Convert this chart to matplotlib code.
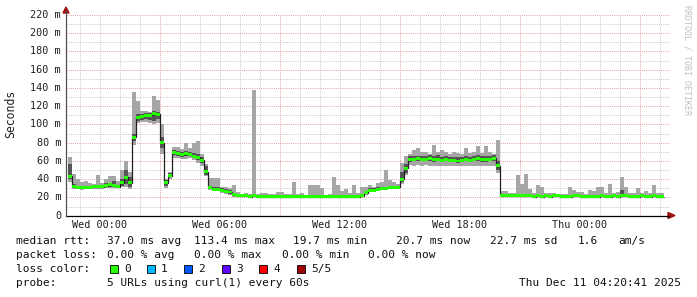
import numpy as np
import matplotlib
matplotlib.use("Agg")
import matplotlib.pyplot as plt
from matplotlib.patches import Rectangle, Polygon

# ── data: 12-minute blocks (ms), hours relative to Wed 00:00 ────────────────
t_start = -1.6
step_h = 0.2

med = [43, 32, 31, 31, 31, 31, 32, 32, 32, 33,
       34, 33, 32, 36, 42, 36, 86, 108, 109, 110,
       110, 112, 111, 80, 36, 44, 69, 68, 67, 68,
       67, 65, 64, 61, 48, 31, 29, 29, 28, 27,
       26, 23, 22, 22, 22, 21, 22, 21, 21, 21,
       21, 21, 21, 21, 21, 21, 21, 21, 21, 21,
       21, 21, 21, 21, 21, 21, 21, 21, 21, 21,
       21, 21, 21, 22, 25, 28, 28, 29, 30, 30,
       31, 31, 31, 40, 52, 62, 62, 63, 62, 62,
       63, 62, 62, 61, 62, 61, 61, 60, 61, 62,
       61, 62, 63, 62, 62, 62, 63, 55, 22, 22,
       22, 22, 22, 22, 22, 22, 21, 22, 21, 22,
       21, 22, 22, 21, 21, 21, 22, 22, 21, 21,
       21, 21, 21, 22, 21, 21, 22, 21, 22, 22,
       21, 21, 21, 22, 21, 21, 22, 21, 21]

smoke_hi = [64, 46, 40, 37, 38, 36, 35, 45, 36, 40,
            44, 44, 38, 50, 60, 48, 136, 126, 115, 115,
            114, 131, 127, 100, 40, 48, 75, 75, 73, 80,
            74, 80, 82, 68, 57, 41, 41, 41, 32, 31,
            30, 34, 26, 24, 25, 24, 138, 24, 25, 25,
            24, 24, 26, 26, 24, 24, 37, 24, 25, 23,
            34, 34, 34, 30, 23, 24, 42, 34, 27, 29,
            25, 34, 25, 31, 31, 34, 31, 36, 37, 50,
            39, 37, 35, 58, 65, 68, 72, 74, 70, 70,
            68, 78, 70, 72, 70, 68, 70, 69, 68, 74,
            69, 70, 76, 69, 76, 70, 68, 83, 27, 27,
            25, 25, 45, 35, 46, 29, 25, 34, 32, 25,
            25, 25, 24, 24, 24, 32, 28, 26, 26, 24,
            28, 27, 31, 32, 25, 35, 25, 26, 42, 31,
            25, 25, 30, 25, 27, 25, 34, 25, 25]

smoke_lo = [37, 29, 29, 28, 29, 29, 29, 29, 29, 30,
            30, 30, 30, 31, 32, 29, 78, 102, 103, 103,
            102, 101, 102, 68, 30, 40, 63, 63, 62, 62,
            63, 61, 58, 55, 43, 28, 27, 27, 25, 24,
            23, 21, 21, 20, 20, 19, 20, 20, 20, 20,
            19, 20, 20, 19, 20, 20, 20, 20, 20, 20,
            20, 20, 20, 20, 20, 20, 20, 20, 20, 20,
            20, 20, 20, 20, 23, 26, 26, 27, 28, 28,
            29, 29, 29, 35, 45, 56, 55, 56, 55, 56,
            55, 54, 55, 54, 55, 54, 55, 54, 55, 55,
            54, 55, 55, 54, 54, 55, 55, 47, 20, 20,
            20, 20, 20, 20, 20, 20, 20, 20, 20, 20,
            20, 20, 20, 20, 20, 19, 20, 20, 20, 19,
            20, 20, 20, 20, 20, 20, 20, 20, 21, 20,
            20, 20, 20, 20, 20, 20, 20, 20, 20]

dark_lo = [40, 30, 30, 30, 30, 30, 31, 31, 31, 31,
           32, 31, 31, 33, 35, 31, 82, 104, 105, 106,
           105, 104, 106, 74, 33, 42, 66, 65, 64, 65,
           65, 63, 61, 58, 45, 29, 28, 28, 27, 25,
           24, 22, 21, 21, 21, 21, 21, 21, 21, 21,
           20, 21, 20, 20, 21, 21, 21, 21, 21, 21,
           21, 21, 21, 21, 21, 21, 21, 21, 21, 21,
           21, 21, 21, 21, 24, 27, 27, 28, 29, 29,
           30, 30, 30, 37, 47, 59, 60, 60, 60, 60,
           60, 59, 60, 59, 60, 59, 59, 58, 59, 60,
           59, 60, 60, 59, 59, 60, 60, 50, 21, 21,
           21, 21, 21, 21, 21, 21, 21, 21, 21, 21,
           21, 21, 21, 21, 21, 20, 21, 21, 21, 20,
           21, 21, 21, 21, 21, 21, 21, 21, 22, 21,
           21, 21, 21, 21, 21, 21, 21, 21, 21]

dark_hi = [57, 35, 33, 33, 33, 32, 33, 33, 34, 36,
           36, 38, 34, 40, 50, 42, 90, 112, 112, 113,
           113, 115, 114, 86, 39, 47, 72, 71, 70, 71,
           70, 69, 68, 64, 55, 33, 31, 31, 30, 29,
           28, 25, 23, 23, 23, 23, 23, 23, 22, 22,
           22, 22, 22, 22, 22, 22, 22, 22, 22, 22,
           22, 22, 22, 22, 22, 22, 22, 22, 22, 22,
           22, 22, 22, 24, 27, 30, 30, 31, 32, 32,
           32, 33, 33, 48, 57, 65, 65, 65, 65, 65,
           66, 65, 66, 64, 65, 64, 64, 64, 64, 65,
           64, 65, 66, 65, 65, 65, 66, 60, 23, 23,
           23, 23, 24, 24, 23, 23, 22, 23, 22, 23,
           22, 23, 23, 22, 22, 22, 23, 23, 22, 22,
           22, 22, 22, 23, 22, 22, 23, 22, 28, 23,
           22, 22, 22, 23, 22, 22, 23, 22, 22]

tick_hours = [0, 6, 12, 18, 24]
tick_labels = ["Wed 00:00", "Wed 06:00", "Wed 12:00", "Wed 18:00", "Thu 00:00"]
loss_labels = ["0", "1", "2", "3", "4", "5/5"]
loss_colors = ["#26ff00", "#00b8ff", "#0059ff", "#5e00ff", "#ff0000", "#a00000"]

W, H = 697, 297
MONO = "DejaVu Sans Mono"


def fx(px):
    return px / W


def fy(py):
    return 1 - py / H


fig = plt.figure(figsize=(W / 100, H / 100), dpi=100)
fig.patch.set_facecolor("white")

# plot area: x 66..670 px, y 215.7..15 px
ax = fig.add_axes([fx(66), fy(215.7), (670 - 66) / W, (215.7 - 15) / H])
ax.set_xlim(-1.7, 28.5)
ax.set_ylim(0, 220)
for s in ax.spines.values():
    s.set_visible(False)

# ── grid ────────────────────────────────────────────────────────────────
dot = (0, (1, 1.2))
for v in range(10, 220, 20):
    ax.axhline(v, color="#c8c8c8", lw=0.7, ls=dot, zorder=0)
for v in range(20, 221, 20):
    ax.axhline(v, color="#e6a0a0", lw=0.7, ls=dot, zorder=0)
for h in range(-1, 29):
    major = (h - 3) % 6 == 0
    ax.axvline(h, color="#e6a0a0" if major else "#c8c8c8", lw=0.7, ls=dot, zorder=0)

# ── smoke + median ──────────────────────────────────────────────────────
edges = t_start + step_h * np.arange(len(med) + 1)
med_a = np.array(med, float)
ax.stairs(smoke_hi, edges, baseline=smoke_lo, fill=True, color="#a6a6a6", lw=0, zorder=2)
ax.stairs(dark_hi, edges, baseline=dark_lo, fill=True, color="#555555", lw=0, zorder=3)
ax.stairs(med_a, edges, baseline=None, color="#202020", lw=0.9, zorder=4)
ax.stairs(med_a + 1.6, edges, baseline=med_a - 1.6, fill=True, color=loss_colors[0],
          lw=0, zorder=5)

# ── axes lines / arrows ────────────────────────────────────────────────
ax.set_xticks([])
ax.set_yticks([])
fig.add_artist(plt.Line2D([fx(66), fx(669)], [fy(215.5), fy(215.5)], color="black", lw=0.9))
fig.add_artist(plt.Line2D([fx(66), fx(66)], [fy(215.5), fy(11)], color="#505050", lw=0.9))
fig.add_artist(Polygon([[fx(63), fy(13)], [fx(69), fy(13)], [fx(66), fy(7)]],
                       closed=True, color="#a01010"))
fig.add_artist(Polygon([[fx(668), fy(212.5)], [fx(668), fy(218.5)], [fx(675), fy(215.5)]],
                       closed=True, color="#a01010"))

# y tick labels
for v in range(0, 221, 20):
    lab = "0" if v == 0 else f"{v} m"
    py = 215.7 - v * (200.7 / 220)
    fig.text(fx(61), fy(py), lab, ha="right", va="center", fontsize=7.3,
             family=MONO, color="#202020")

# x tick labels
for h, lab in zip(tick_hours, tick_labels):
    fig.text(fx(100 + 20 * h), fy(225), lab, ha="center", va="center", fontsize=7.3,
             family=MONO, color="#202020")

fig.text(fx(11), fy(114), "Seconds", rotation=90, ha="center", va="center",
         fontsize=8.3, family=MONO, color="#202020")
fig.text(fx(687), fy(5), "RRDTOOL / TOBI OETIKER", rotation=270, ha="center", va="top",
         fontsize=6, family=MONO, color="#c0c0c0")

# ── legend text ────────────────────────────────────────────────────────
fs = 8.0


def put(px, py, s, ha="left"):
    fig.text(fx(px), fy(py), s, ha=ha, va="center", fontsize=fs, family=MONO,
             color="#101010")


put(16, 241, "median rtt:")
put(107, 241, "37.0 ms avg")
put(194, 241, "113.4 ms max")
put(293, 241, "19.7 ms min")
put(396, 241, "20.7 ms now")
put(490, 241, "22.7 ms sd")
put(578, 241, "1.6")
put(618, 241, "am/s")

put(16, 255, "packet loss:")
put(107, 255, "0.00 % avg")
put(194, 255, "0.00 % max")
put(282, 255, "0.00 % min")
put(368, 255, "0.00 % now")

put(16, 269, "loss color:")
sq_x = [110, 147, 184, 222, 259, 297]
for x0, lab, col in zip(sq_x, loss_labels, loss_colors):
    fig.add_artist(Rectangle((fx(x0), fy(273)), 8 / W, 8 / H, facecolor=col,
                             edgecolor="black", lw=0.6))
    put(x0 + 14, 269, lab)

put(16, 283, "probe:")
put(107, 283, "5 URLs using curl(1) every 60s")
put(681, 283, "Thu Dec 11 04:20:41 2025", ha="right")

fig.savefig("out.png", dpi=100, facecolor="white")
